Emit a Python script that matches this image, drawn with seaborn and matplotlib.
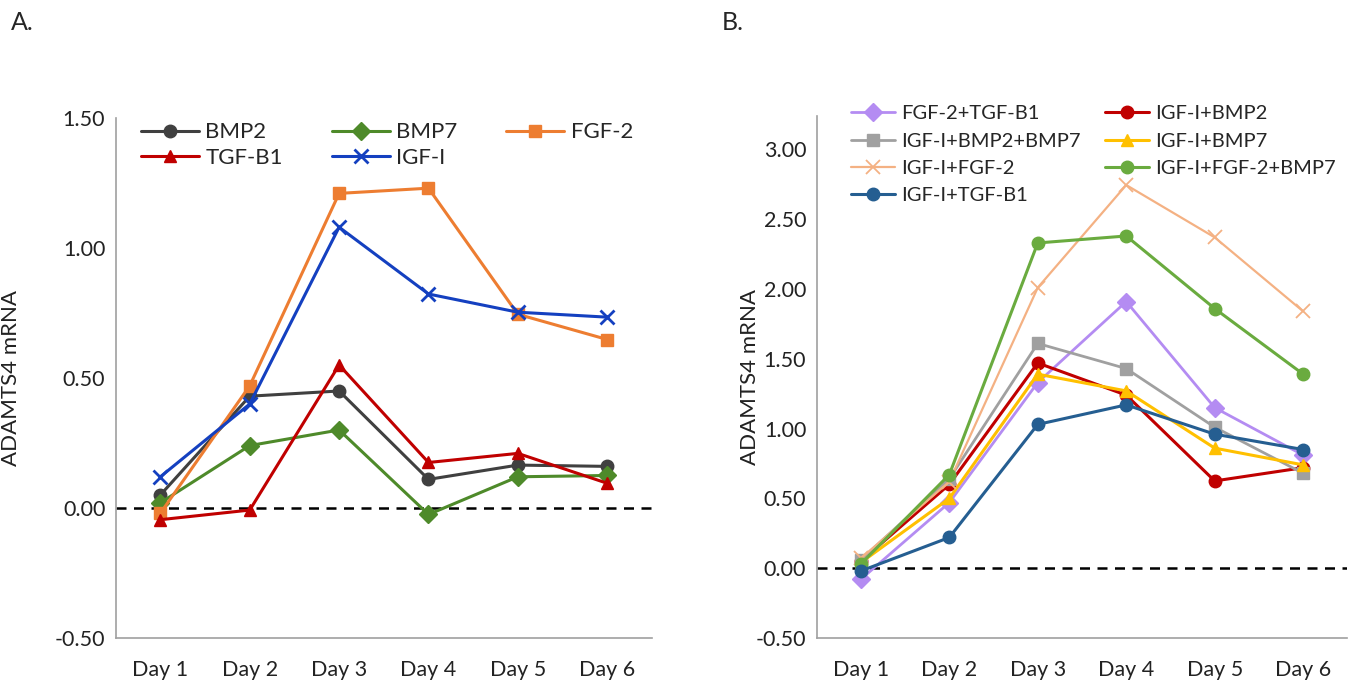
import pandas as pd
import matplotlib
matplotlib.use("Agg")
import matplotlib.pyplot as plt
import seaborn as sns

# Data
days = ["Day 1", "Day 2", "Day 3", "Day 4", "Day 5", "Day 6"]

# Panel A: single factors
bmp2 = [0.05, 0.43, 0.45, 0.11, 0.165, 0.16]
bmp7 = [0.02, 0.24, 0.30, -0.025, 0.12, 0.125]
fgf2 = [-0.02, 0.47, 1.21, 1.23, 0.745, 0.648]
tgfb1 = [-0.045, -0.008, 0.55, 0.175, 0.21, 0.095]
igf1 = [0.12, 0.40, 1.08, 0.823, 0.753, 0.734]

# Panel B: combinations
fgf2_tgfb1 = [-0.08, 0.47, 1.33, 1.91, 1.15, 0.81]
igf1_bmp2 = [0.05, 0.60, 1.47, 1.24, 0.625, 0.72]
igf1_bmp2_bmp7 = [0.06, 0.64, 1.61, 1.43, 1.01, 0.68]
igf1_bmp7 = [0.04, 0.50, 1.39, 1.27, 0.86, 0.74]
igf1_fgf2 = [0.07, 0.62, 2.01, 2.745, 2.37, 1.84]
igf1_fgf2_bmp7 = [0.03, 0.67, 2.33, 2.38, 1.86, 1.39]
igf1_tgfb1 = [-0.02, 0.22, 1.03, 1.17, 0.96, 0.85]

series_a = [
    ("BMP2", bmp2, "#404040", "o", 2.2),
    ("BMP7", bmp7, "#4e8a2a", "D", 2.2),
    ("FGF-2", fgf2, "#ed7d31", "s", 2.2),
    ("TGF-B1", tgfb1, "#c00000", "^", 2.2),
    ("IGF-I", igf1, "#1440c0", "x", 2.2),
]
series_b = [
    ("FGF-2+TGF-B1", fgf2_tgfb1, "#b48cf2", "D", 2.0),
    ("IGF-I+BMP2", igf1_bmp2, "#c00000", "o", 2.2),
    ("IGF-I+BMP2+BMP7", igf1_bmp2_bmp7, "#a0a0a0", "s", 2.0),
    ("IGF-I+BMP7", igf1_bmp7, "#ffc000", "^", 2.2),
    ("IGF-I+FGF-2", igf1_fgf2, "#f4b183", "x", 1.6),
    ("IGF-I+FGF-2+BMP7", igf1_fgf2_bmp7, "#6aab3f", "o", 2.2),
    ("IGF-I+TGF-B1", igf1_tgfb1, "#255e91", "o", 2.2),
]

sns.set_style("white")
plt.rcParams["font.family"] = ["Lato", "DejaVu Sans"]

fig = plt.figure(figsize=(13.61, 6.86), dpi=100)
ax_a = fig.add_axes([0.085, 0.070, 0.394, 0.758])
ax_b = fig.add_axes([0.600, 0.070, 0.390, 0.761])


def draw_panel(ax, series):
    for name, vals, color, marker, lw in series:
        df = pd.DataFrame({"Day": days, "Value": vals})
        ms = 9 if marker != "x" else 10
        mew = 1.0 if marker != "x" else 2.0
        if name == "IGF-I+FGF-2":
            mew = 1.3
        sns.lineplot(data=df, x="Day", y="Value", ax=ax, color=color, marker=marker,
                     markersize=ms, markeredgecolor=color, markeredgewidth=mew,
                     linewidth=lw, label=name, sort=False)
    ax.axhline(0, color="black", linestyle=(0, (4, 3)), linewidth=1.8, zorder=0.5)
    ax.set_xlim(-0.5, 5.5)
    ax.set_xlabel("")
    ax.set_ylabel("ADAMTS4 mRNA", fontsize=16, color="#222222")
    for side in ["top", "right"]:
        ax.spines[side].set_visible(False)
    for side in ["left", "bottom"]:
        ax.spines[side].set_color("#a0a0a0")
        ax.spines[side].set_linewidth(1.2)
    ax.tick_params(axis="both", direction="out", length=4, color="#a0a0a0",
                   labelsize=15.5, labelcolor="#222222")
    ax.tick_params(axis="x", pad=12)


def row_major(ax, ncol):
    # reorder legend entries so they fill rows first, like the reference
    handles, labels = ax.get_legend_handles_labels()
    nrow = -(-len(labels) // ncol)
    order = []
    for c in range(ncol):
        for r in range(nrow):
            i = r * ncol + c
            if i < len(labels):
                order.append(i)
    return [handles[i] for i in order], [labels[i] for i in order]


draw_panel(ax_a, series_a)
ax_a.set_ylim(-0.5, 1.5)
ax_a.set_yticks([-0.5, 0.0, 0.5, 1.0, 1.5])
ax_a.set_yticklabels([f"{v:.2f}" for v in [-0.5, 0.0, 0.5, 1.0, 1.5]])
ax_a.yaxis.set_label_coords(-0.177, 0.5)
h, l = row_major(ax_a, 3)
ax_a.legend(h, l, loc="upper left", bbox_to_anchor=(0.01, 1.03), ncol=3, frameon=False,
            fontsize=16, handlelength=2.6, columnspacing=2.2, handletextpad=0.3,
            labelspacing=0.25)

draw_panel(ax_b, series_b)
ax_b.set_ylim(-0.5, 3.24)
ax_b.set_yticks([-0.5, 0.0, 0.5, 1.0, 1.5, 2.0, 2.5, 3.0])
ax_b.set_yticklabels([f"{v:.2f}" for v in [-0.5, 0.0, 0.5, 1.0, 1.5, 2.0, 2.5, 3.0]])
ax_b.yaxis.set_label_coords(-0.107, 0.5)
h, l = row_major(ax_b, 2)
ax_b.legend(h, l, loc="upper left", bbox_to_anchor=(0.03, 1.055), ncol=2, frameon=False,
            fontsize=14.5, handlelength=2.2, columnspacing=1.2, handletextpad=0.3,
            labelspacing=0.5)

fig.text(0.008, 0.967, "A.", fontsize=18, va="center", ha="left")
fig.text(0.530, 0.967, "B.", fontsize=18, va="center", ha="left")

fig.savefig("out.png", dpi=100)
